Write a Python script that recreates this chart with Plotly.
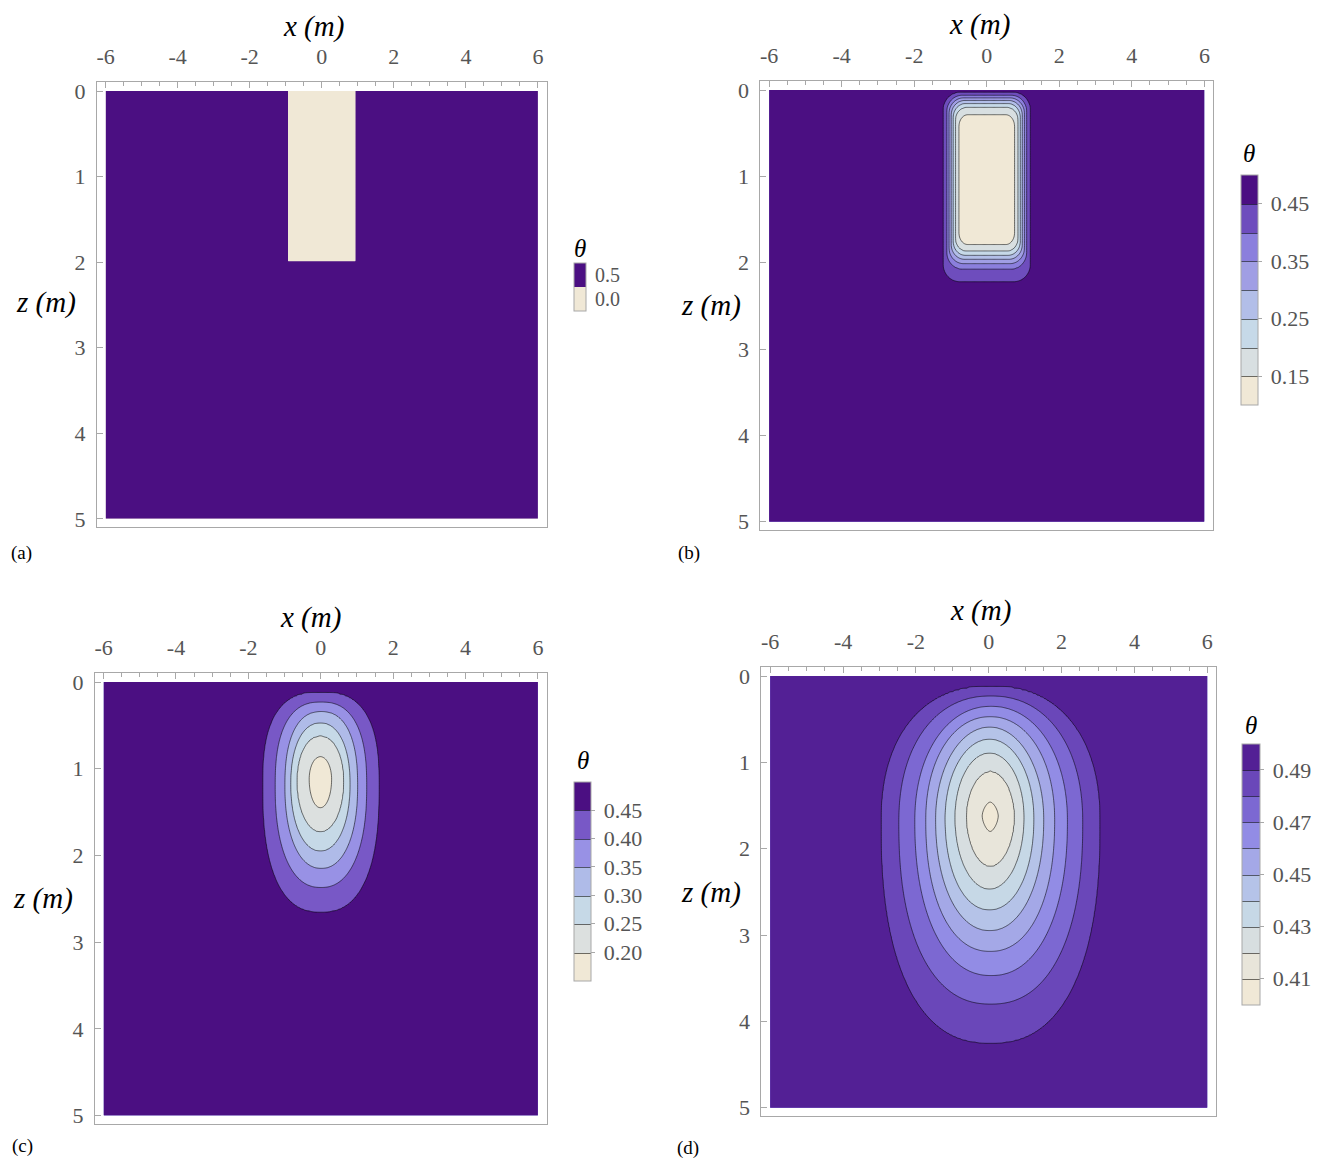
import numpy as np
import plotly.graph_objects as go

W, H = 1328, 1167
SERIF = "Times New Roman, Liberation Serif, Times, serif"
TICK_GREY = "#555555"
FRAME_GREY = "#A8A8A8"
LINE_COL = "rgba(0,0,0,0.55)"

# ---------------- axes ----------------
x_tick_vals = [-6, -4, -2, 0, 2, 4, 6]
x_tick_text = ["-6", "-4", "-2", "0", "2", "4", "6"]
z_tick_vals = [0, 1, 2, 3, 4, 5]
x_range = [-6.24, 6.24]
z_range = [5.1, -0.1]

# ---------------- panel (a): initial state ----------------
a_levels = [0.25]
a_inside_value = 0.0
a_outside_value = 0.5
a_half_width = 0.93
a_depth = 1.98
a_colors = ["#F0E8D6", "#4B0F82"]
a_cbar_ticks = [0.0, 0.5]

# ---------------- panel (b) (contours: outer -> inner) ----------------
b_levels = [0.45, 0.40, 0.35, 0.30, 0.25, 0.20, 0.15]
b_half_width = [1.20, 1.10, 1.04, 0.98, 0.925, 0.865, 0.77]
b_top = [0.03, 0.06, 0.09, 0.12, 0.155, 0.20, 0.285]
b_bottom = [2.22, 2.07, 2.01, 1.96, 1.915, 1.865, 1.79]
b_corner_x = [0.45, 0.42, 0.40, 0.37, 0.34, 0.30, 0.25]
b_corner_z = [0.20, 0.19, 0.18, 0.17, 0.16, 0.15, 0.14]
b_colors = ["#F0E8D6", "#D8DFE1", "#C6D9E8", "#B2BEE8", "#A09EE4",
            "#8B7FDD", "#6E4DBD", "#4B0F82"]
b_cbar_ticks = [0.15, 0.25, 0.35, 0.45]

# ---------------- panel (c) ----------------
c_levels = [0.45, 0.40, 0.35, 0.30, 0.25, 0.20]
c_left = [-1.60, -1.26, -0.99, -0.83, -0.66, -0.32]
c_right = [1.61, 1.27, 1.02, 0.81, 0.64, 0.30]
c_top = [0.12, 0.23, 0.34, 0.47, 0.62, 0.86]
c_bottom = [2.65, 2.37, 2.15, 1.95, 1.73, 1.45]
c_widest = [1.20, 1.20, 1.20, 1.18, 1.15, 1.12]
c_n_top = [2.7, 2.5, 2.4, 2.2, 2.1, 2.0]
c_n_bottom = [2.5, 2.3, 2.2, 2.1, 2.0, 2.0]
c_colors = ["#F0E8D6", "#DCE0DF", "#C6D9E7", "#AFBBE8", "#9891E5",
            "#7858C6", "#4B0F82"]
c_cbar_ticks = [0.20, 0.25, 0.30, 0.35, 0.40, 0.45]

# ---------------- panel (d) ----------------
d_levels = [0.49, 0.48, 0.47, 0.46, 0.45, 0.44, 0.43, 0.42, 0.41]
d_left = [-2.95, -2.47, -2.03, -1.73, -1.46, -1.20, -0.93, -0.62, -0.18]
d_right = [3.05, 2.58, 2.16, 1.81, 1.51, 1.24, 0.97, 0.71, 0.26]
d_top = [0.12, 0.23, 0.35, 0.47, 0.59, 0.73, 0.89, 1.10, 1.46]
d_bottom = [4.25, 3.80, 3.47, 3.19, 2.95, 2.71, 2.47, 2.21, 1.80]
d_widest = [1.70, 1.70, 1.68, 1.67, 1.66, 1.65, 1.64, 1.63, 1.62]
d_n_top = [2.3, 2.2, 2.1, 2.1, 2.0, 2.0, 2.0, 1.9, 1.6]
d_n_bottom = [2.4, 2.3, 2.2, 2.2, 2.1, 2.1, 2.0, 1.9, 1.6]
d_colors = ["#F0E8D6", "#E8E5DA", "#D7DEE0", "#C6D8E6", "#B5C3E8",
            "#A4A8E7", "#928CE5", "#7C68D2", "#6A47B9", "#532095"]
d_cbar_ticks = [0.41, 0.43, 0.45, 0.47, 0.49]

# ---------------- grid ----------------
xg = np.linspace(-6, 6, 481)
zg = np.linspace(0, 5, 251)
X, Z = np.meshgrid(xg, zg)


def rounded_box(hw, zt, zb, rx, rz):
    zc = (zt + zb) / 2.0
    hh = (zb - zt) / 2.0
    qx = (np.abs(X) - (hw - rx)) / rx
    qz = (np.abs(Z - zc) - (hh - rz)) / rz
    outside = np.hypot(np.maximum(qx, 0), np.maximum(qz, 0))
    inside = np.minimum(np.maximum(qx, qz), 0)
    return outside + inside - 1.0


def egg(xl, xr, zt, zb, zm, nt, nb):
    xc = (xl + xr) / 2.0
    w = (xr - xl) / 2.0
    u = np.abs(X - xc) / w
    upper = Z < zm
    v = np.where(upper, (zm - Z) / (zm - zt), (Z - zm) / (zb - zm))
    n = np.where(upper, nt, nb)
    return (u ** n + np.abs(v) ** n) ** (1.0 / n) - 1.0


def build_field(D, levels):
    L = np.array(levels)
    K = len(L)
    cs = abs(L[0] - L[1])
    m = (D < 0).sum(axis=0)
    th = np.empty(D.shape[1:])
    sel = m == 0
    th[sel] = L[0] + 0.5 * cs * np.clip(D[0][sel] / 0.3, 0, 1)
    sel = m == K
    th[sel] = L[-1] - 0.5 * cs * np.clip(-D[-1][sel] / 0.3, 0, 1)
    for k in range(1, K):
        sel = m == k
        din = D[k - 1][sel]
        dout = D[k][sel]
        den = dout - din
        den[den == 0] = 1e-9
        t = np.clip(dout / den, 0, 1)
        th[sel] = L[k] + (L[k - 1] - L[k]) * t
    return th


theta_a = np.where((np.abs(X) <= a_half_width) & (Z <= a_depth),
                   a_inside_value, a_outside_value)

Db = np.array([rounded_box(b_half_width[i], b_top[i], b_bottom[i],
                           b_corner_x[i], b_corner_z[i])
               for i in range(len(b_levels))])
theta_b = build_field(Db, b_levels)

Dc = np.array([egg(c_left[i], c_right[i], c_top[i], c_bottom[i], c_widest[i],
                   c_n_top[i], c_n_bottom[i]) for i in range(len(c_levels))])
theta_c = build_field(Dc, c_levels)

Dd = np.array([egg(d_left[i], d_right[i], d_top[i], d_bottom[i], d_widest[i],
                   d_n_top[i], d_n_bottom[i]) for i in range(len(d_levels))])
theta_d = build_field(Dd, d_levels)


def colorscale(colors):
    n = len(colors) - 1
    return [[k / n, c] for k, c in enumerate(colors)]


def px_x(p):
    return p / W


def px_y(p):
    return 1 - p / H


panels = [
    dict(field=theta_a, levels=a_levels, cs=0.5, colors=a_colors,
         ticks=a_cbar_ticks, fmt="{:.1f}", frame=(96, 546, 79, 527),
         cbar=(573, 261, 12, 48), show_lines=False, cbar_ticks="", cfs=20,
         xt=(313, 23), zt=(45, 301), th=(579, 246), lab=("(a)", 21, 553)),
    dict(field=theta_b, levels=b_levels, cs=0.05, colors=b_colors,
         ticks=b_cbar_ticks, fmt="{:.2f}", frame=(760, 1213, 78, 530),
         cbar=(1241, 172, 17, 230), show_lines=True, cbar_ticks="outside", cfs=22,
         xt=(979, 21), zt=(711, 304), th=(1249, 151), lab=("(b)", 689, 553)),
    dict(field=theta_c, levels=c_levels, cs=0.05, colors=c_colors,
         ticks=c_cbar_ticks, fmt="{:.2f}", frame=(94, 546, 674, 1128),
         cbar=(573, 783, 17, 199), show_lines=True, cbar_ticks="outside", cfs=22,
         xt=(310, 618), zt=(42, 901), th=(582, 762), lab=("(c)", 22, 1150)),
    dict(field=theta_d, levels=d_levels, cs=0.01, colors=d_colors,
         ticks=d_cbar_ticks, fmt="{:.2f}", frame=(761, 1216, 668, 1120),
         cbar=(1242, 745, 18, 261), show_lines=True, cbar_ticks="outside", cfs=22,
         xt=(980, 611), zt=(711, 895), th=(1251, 726), lab=("(d)", 688, 1152)),
]

fig = go.Figure()
layout = dict(width=W, height=H, margin=dict(l=0, r=0, t=0, b=0),
              paper_bgcolor="white", plot_bgcolor="white", showlegend=False)
annotations = []

for i, p in enumerate(panels):
    sfx = "" if i == 0 else str(i + 1)
    l, r, t, b = p["frame"]
    lv = sorted(p["levels"])
    start, end, cs = lv[0], lv[-1], p["cs"]
    cx, cy, thick, ln = p["cbar"]
    gap = "\u2009"
    fig.add_trace(go.Contour(
        x=xg, y=zg, z=np.round(p["field"], 5).astype(np.float32),
        xaxis="x" + sfx, yaxis="y" + sfx,
        autocontour=False,
        contours=dict(start=start, end=end, size=cs, coloring="fill",
                      showlines=p["show_lines"]),
        line=dict(color=LINE_COL, width=1 if p["show_lines"] else 0,
                  smoothing=1 if p["show_lines"] else 0),
        colorscale=colorscale(p["colors"]),
        zmin=start - cs, zmax=end + cs,
        hoverinfo="skip",
        colorbar=dict(x=px_x(cx), xanchor="left", xpad=0,
                      y=px_y(cy), yanchor="top", ypad=0,
                      len=ln, lenmode="pixels",
                      thickness=thick, thicknessmode="pixels",
                      outlinewidth=1, outlinecolor=FRAME_GREY,
                      tickmode="array", tickvals=p["ticks"],
                      ticktext=[gap + p["fmt"].format(v) for v in p["ticks"]],
                      ticks=p["cbar_ticks"], ticklen=4,
                      tickcolor=FRAME_GREY,
                      tickfont=dict(family=SERIF, size=p["cfs"], color=TICK_GREY)),
    ))
    layout["xaxis" + sfx] = dict(
        domain=[px_x(l), px_x(r)], anchor="y" + sfx, side="top",
        range=x_range, tickmode="array", tickvals=x_tick_vals,
        ticktext=x_tick_text, ticks="inside", ticklen=6,
        tickcolor=FRAME_GREY, showline=True, linecolor=FRAME_GREY,
        linewidth=1, mirror=True, showgrid=False, zeroline=False,
        tickfont=dict(family=SERIF, size=22, color=TICK_GREY),
        ticklabelstandoff=9,
        minor=dict(tickmode="linear", tick0=0, dtick=0.5, ticks="inside",
                   ticklen=3.5, tickcolor=FRAME_GREY, showgrid=False),
    )
    layout["yaxis" + sfx] = dict(
        domain=[px_y(b), px_y(t)], anchor="x" + sfx,
        range=z_range, tickmode="array", tickvals=z_tick_vals,
        ticks="inside", ticklen=6, tickcolor=FRAME_GREY, showline=True,
        linecolor=FRAME_GREY, linewidth=1, mirror=True, showgrid=False,
        zeroline=False, ticklabelstandoff=6,
        tickfont=dict(family=SERIF, size=22, color=TICK_GREY),
    )

    def ann(text, xy, size, color="black"):
        annotations.append(dict(text=text, x=px_x(xy[0]), y=px_y(xy[1]),
                                xref="paper", yref="paper", showarrow=False,
                                xanchor="center", yanchor="middle",
                                font=dict(family=SERIF, size=size, color=color)))

    ann("<i>x (m)</i>", p["xt"], 29)
    ann("<i>z (m)</i>", p["zt"], 29)
    ann("<i>θ</i>", p["th"], 25)
    ann(p["lab"][0], p["lab"][1:], 19)

layout["annotations"] = annotations
fig.update_layout(**layout)
fig.write_html("out.html")
